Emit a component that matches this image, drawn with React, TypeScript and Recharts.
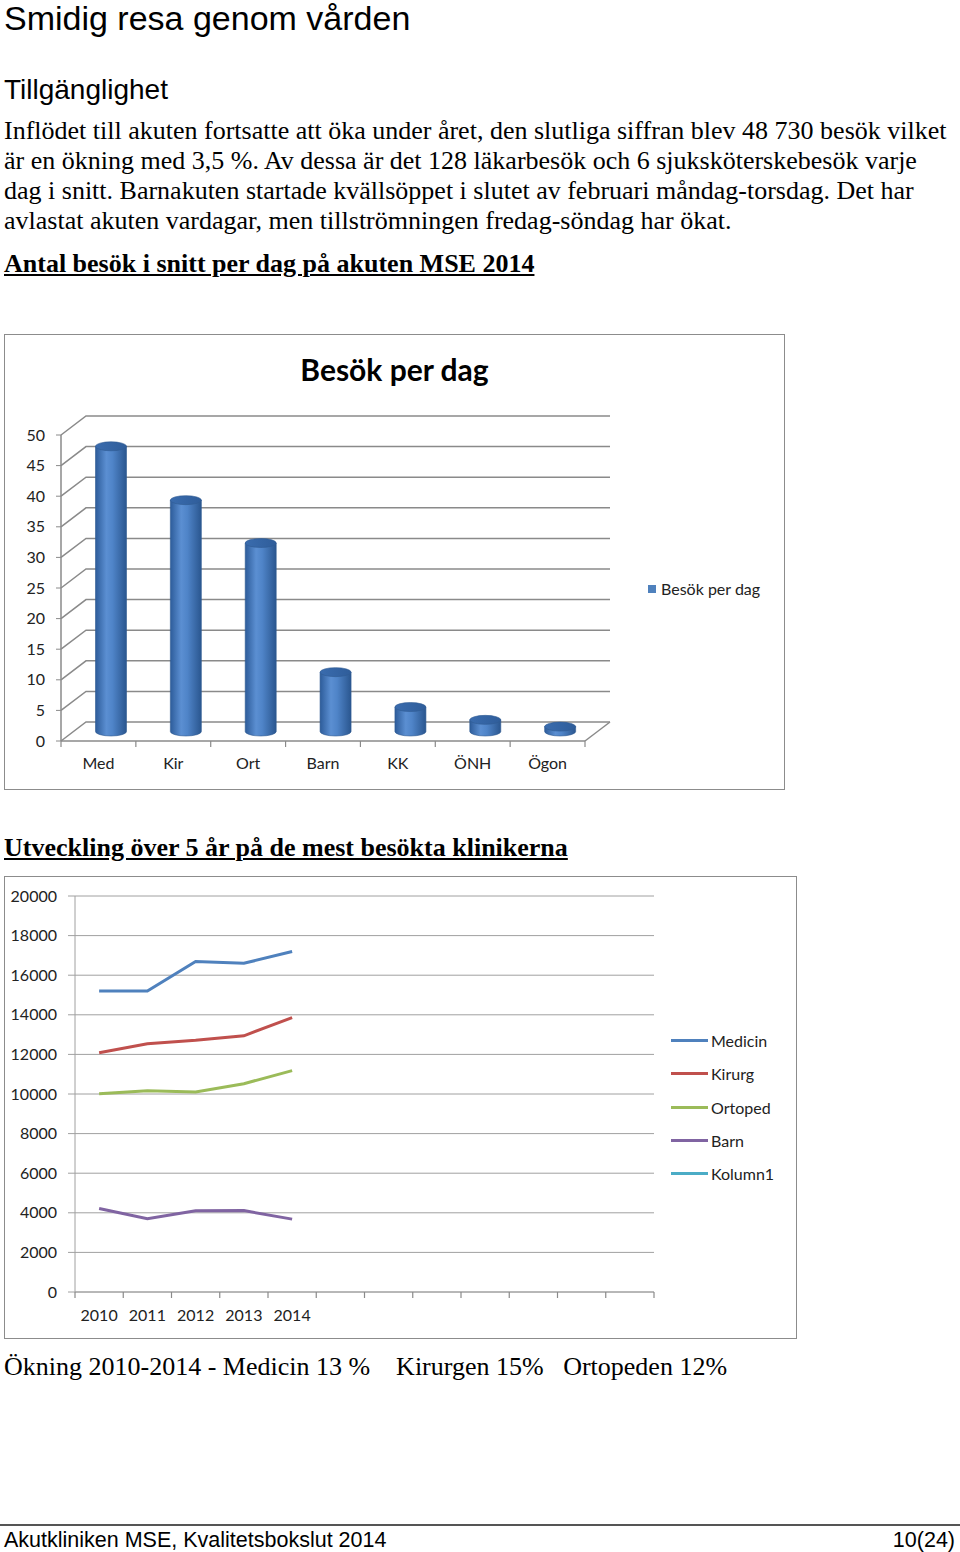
import React from 'react';
import {
  BarChart,
  Bar,
  XAxis,
  YAxis,
  CartesianGrid,
  Legend,
  LineChart,
  Line,
  ReferenceLine,
} from 'recharts';

// ---------- data: bar chart ----------
const clinics = ['Med', 'Kir', 'Ort', 'Barn', 'KK', 'ÖNH', 'Ögon'];
const visitsPerDay = [46.6, 37.8, 30.8, 9.7, 4.0, 1.9, 0.8];
const barTicks = [0, 5, 10, 15, 20, 25, 30, 35, 40, 45, 50];

// ---------- data: line chart ----------
const years = ['2010', '2011', '2012', '2013', '2014'];
const slotCount = 12; // category slots on the x axis (only first five labelled)
const medicin = [15200, 15200, 16690, 16600, 17200];
const kirurg = [12085, 12540, 12710, 12940, 13860];
const ortoped = [10010, 10170, 10105, 10520, 11180];
const barn = [4220, 3700, 4100, 4110, 3680];
const kolumn1: (number | null)[] = [null, null, null, null, null];
const lineTicks = [0, 2000, 4000, 6000, 8000, 10000, 12000, 14000, 16000, 18000, 20000];

const seriesNames = ['Medicin', 'Kirurg', 'Ortoped', 'Barn', 'Kolumn1'];
const seriesColors = ['#4F81BD', '#C0504D', '#9BBB59', '#8064A2', '#4BACC6'];
const seriesValues = [medicin, kirurg, ortoped, barn, kolumn1];

const barData = clinics.map((c, i) => ({ name: c, value: visitsPerDay[i] }));
const lineData = Array.from({ length: slotCount }, (_, i) => {
  const row: Record<string, any> = { i };
  seriesNames.forEach((n, k) => {
    row[n] = i < years.length ? seriesValues[k][i] : null;
  });
  return row;
});

const CHART_FONT = 'Lato, "Open Sans", sans-serif';
const SERIF = '"Liberation Serif", "Times New Roman", serif';
const SANS = '"Liberation Sans", Arial, sans-serif';

// 3D depth offset of the back wall
const DX = 25;
const DY = -19;
const GRID = '#8a8a8a';

// ---------- bar chart helpers ----------
const backWallLine = (props: any) => {
  const { x1, y1, x2, key } = props;
  const d = `M${x1},${y1} L${x1 + DX},${y1 + DY} L${x2 + DX},${y1 + DY}`;
  return <path key={key} d={d} stroke={GRID} strokeWidth={1.5} fill="none" />;
};

const floorRightEdge = (props: any) => {
  const { x2, y2 } = props;
  return (
    <path
      d={`M${x2},${y2} L${x2 + DX},${y2 + DY}`}
      stroke={GRID}
      strokeWidth={1.5}
      fill="none"
    />
  );
};

const Cylinder = (props: any) => {
  const { x, y, width, height } = props;
  if (width == null || height == null) return null;
  const cx = x + DX / 2;
  const cy = y + DY / 2;
  const rx = width / 2;
  const ry = 4.5;
  const bottom = cy + height;
  const body = `M${cx},${cy} L${cx},${bottom} A${rx},${ry} 0 0 0 ${cx + width},${bottom} L${cx + width},${cy} Z`;
  return (
    <g>
      <path d={body} fill="url(#cylGrad)" stroke="#2f5b92" strokeWidth={0.6} />
      <ellipse cx={cx + rx} cy={cy} rx={rx} ry={ry} fill="url(#capGrad)" stroke="#2f5b92" strokeWidth={0.6} />
    </g>
  );
};

const makeCategoryTick =
  (axisOffset: number, labelDy: number, labels: (i: number, v: any) => string, count: number, tick: number) =>
  (props: any) => {
    const { x, y, payload, index } = props;
    const axisY = y - axisOffset;
    const half = payload && typeof payload.offset === 'number' && payload.offset > 0 ? payload.offset : 0;
    const label = labels(index, payload ? payload.value : undefined);
    return (
      <g>
        <line x1={x - half} y1={axisY} x2={x - half} y2={axisY + tick} stroke={GRID} strokeWidth={1.2} />
        {index === count - 1 && (
          <line x1={x + half} y1={axisY} x2={x + half} y2={axisY + tick} stroke={GRID} strokeWidth={1.2} />
        )}
        <text
          x={x}
          y={axisY + labelDy}
          textAnchor="middle"
          fontFamily={CHART_FONT}
          fontSize={16}
          fill="#222"
        >
          {label}
        </text>
      </g>
    );
  };

const BarLegend = () => (
  <div style={{ display: 'flex', alignItems: 'center', fontFamily: CHART_FONT, fontSize: 16, color: '#222' }}>
    <span style={{ display: 'inline-block', width: 8, height: 8, background: '#4F81BD', marginRight: 5 }} />
    <span>Besök per dag</span>
  </div>
);

const LineLegend = () => (
  <div style={{ fontFamily: CHART_FONT, fontSize: 16, color: '#222' }}>
    {seriesNames.map((n, k) => (
      <div key={n} style={{ display: 'flex', alignItems: 'center', height: 33.25 }}>
        <span style={{ display: 'inline-block', width: 37, height: 3, background: seriesColors[k], marginRight: 3 }} />
        <span>{n}</span>
      </div>
    ))}
  </div>
);

// ---------- text helper ----------
const Txt = ({ left, top, size, family, bold, underline, children, right }: any) => (
  <div
    style={{
      position: 'absolute',
      left,
      right,
      top,
      fontSize: size,
      lineHeight: `${size}px`,
      fontFamily: family,
      fontWeight: bold ? 700 : 400,
      textDecoration: underline ? 'underline' : 'none',
      whiteSpace: 'pre',
      color: '#000',
    }}
  >
    {children}
  </div>
);

const BAR_TICK_SIZE = 5;
const BAR_TICK_MARGIN = 17;
const LINE_TICK_SIZE = 6;
const LINE_TICK_MARGIN = 17;
const BODY = 26;
const XAXIS_H = 30;

export default function App() {
  return (
    <div
      style={{
        position: 'absolute',
        left: 0,
        top: 0,
        width: 960,
        height: 1552,
        background: '#fff',
        overflow: 'hidden',
      }}
    >
      <Txt left={4} top={1} size={34} family={SANS}>Smidig resa genom vården</Txt>
      <Txt left={4} top={76} size={28} family={SANS}>Tillgänglighet</Txt>
      <Txt left={4} top={118} size={BODY} family={SERIF}>
        Inflödet till akuten fortsatte att öka under året, den slutliga siffran blev 48 730 besök vilket
      </Txt>
      <Txt left={4} top={148} size={BODY} family={SERIF}>
        är en ökning med 3,5 %. Av dessa är det 128 läkarbesök och 6 sjuksköterskebesök varje
      </Txt>
      <Txt left={4} top={178} size={BODY} family={SERIF}>
        dag i snitt. Barnakuten startade kvällsöppet i slutet av februari måndag-torsdag. Det har
      </Txt>
      <Txt left={4} top={208} size={BODY} family={SERIF}>
        avlastat akuten vardagar, men tillströmningen fredag-söndag har ökat.
      </Txt>
      <Txt left={4} top={251} size={BODY} family={SERIF} bold underline>
        Antal besök i snitt per dag på akuten MSE 2014
      </Txt>

      {/* ---------- bar chart ---------- */}
      <div
        style={{
          position: 'absolute',
          left: 4,
          top: 334,
          width: 781,
          height: 456,
          border: '1px solid #8c8c8c',
          boxSizing: 'border-box',
        }}
      >
        <div
          style={{
            position: 'absolute',
            left: 0,
            width: 779,
            top: 16,
            textAlign: 'center',
            fontFamily: CHART_FONT,
            fontWeight: 700,
            fontSize: 30,
            lineHeight: '36px',
            color: '#000',
          }}
        >
          Besök per dag
        </div>
        <BarChart
          width={779}
          height={454}
          data={barData}
          margin={{ top: 100, right: 199, bottom: 48 - XAXIS_H, left: 16 }}
        >
          <defs>
            <linearGradient id="cylGrad" x1="0" y1="0" x2="1" y2="0">
              <stop offset="0%" stopColor="#2d5c9a" />
              <stop offset="35%" stopColor="#5b8fd2" />
              <stop offset="55%" stopColor="#4f84c8" />
              <stop offset="100%" stopColor="#2a568f" />
            </linearGradient>
            <linearGradient id="capGrad" x1="0" y1="0" x2="1" y2="0">
              <stop offset="0%" stopColor="#3a6cae" />
              <stop offset="100%" stopColor="#2f5d9a" />
            </linearGradient>
          </defs>
          <CartesianGrid vertical={false} horizontal={backWallLine} />
          <XAxis
            dataKey="name"
            height={XAXIS_H}
            axisLine={{ stroke: GRID, strokeWidth: 1.5 }}
            tickLine={false}
            tickSize={BAR_TICK_SIZE}
            tickMargin={BAR_TICK_MARGIN}
            interval={0}
            tick={makeCategoryTick(
              BAR_TICK_SIZE + BAR_TICK_MARGIN,
              28,
              (i, v) => (v != null ? String(v) : clinics[i]),
              clinics.length,
              6
            )}
          />
          <YAxis
            width={40}
            domain={[0, 50]}
            ticks={barTicks}
            interval={0}
            axisLine={{ stroke: GRID, strokeWidth: 1.5 }}
            tickLine={{ stroke: GRID }}
            tickSize={BAR_TICK_SIZE}
            tickMargin={11}
            tick={{ fontFamily: CHART_FONT, fontSize: 16, fill: '#222' }}
          />
          <ReferenceLine y={0} stroke="none" shape={floorRightEdge} ifOverflow="visible" />
          <Bar dataKey="value" name="Besök per dag" barSize={31} shape={Cylinder} isAnimationActive={false} />
          <Legend
            layout="vertical"
            align="center"
            verticalAlign="middle"
            content={<BarLegend />}
            wrapperStyle={{ position: 'absolute', left: 643, top: 244, width: 130, bottom: 'auto', right: 'auto' }}
          />
        </BarChart>
      </div>

      <Txt left={4} top={835} size={BODY} family={SERIF} bold underline>
        Utveckling över 5 år på de mest besökta klinikerna
      </Txt>

      {/* ---------- line chart ---------- */}
      <div
        style={{
          position: 'absolute',
          left: 4,
          top: 876,
          width: 793,
          height: 463,
          border: '1px solid #8c8c8c',
          boxSizing: 'border-box',
        }}
      >
        <LineChart
          width={791}
          height={461}
          data={lineData}
          margin={{ top: 19, right: 142, bottom: 46 - XAXIS_H, left: 10 }}
        >
          <CartesianGrid vertical={false} stroke="#a0a0a0" strokeWidth={1} />
          <XAxis
            dataKey="i"
            type="category"
            scale="band"
            height={XAXIS_H}
            axisLine={{ stroke: '#a0a0a0' }}
            tickLine={false}
            tickSize={LINE_TICK_SIZE}
            tickMargin={LINE_TICK_MARGIN}
            interval={0}
            tick={makeCategoryTick(
              LINE_TICK_SIZE + LINE_TICK_MARGIN,
              29,
              (i) => (i < years.length ? years[i] : ''),
              slotCount,
              6
            )}
          />
          <YAxis
            width={60}
            domain={[0, 20000]}
            ticks={lineTicks}
            interval={0}
            axisLine={{ stroke: '#a0a0a0' }}
            tickLine={{ stroke: '#a0a0a0' }}
            tickSize={7}
            tickMargin={11}
            tick={{ fontFamily: CHART_FONT, fontSize: 16, fill: '#222' }}
          />
          {seriesNames.map((n, k) => (
            <Line
              key={n}
              dataKey={n}
              name={n}
              stroke={seriesColors[k]}
              strokeWidth={3}
              dot={false}
              activeDot={false}
              connectNulls={false}
              isAnimationActive={false}
            />
          ))}
          <Legend
            layout="vertical"
            align="center"
            verticalAlign="middle"
            content={<LineLegend />}
            wrapperStyle={{ position: 'absolute', left: 666, top: 147, width: 120, bottom: 'auto', right: 'auto' }}
          />
        </LineChart>
      </div>

      <Txt left={4} top={1354} size={BODY} family={SERIF}>
        {'Ökning 2010-2014 - Medicin 13 %    Kirurgen 15%   Ortopeden 12%'}
      </Txt>

      {/* footer */}
      <div style={{ position: 'absolute', left: 0, top: 1524, width: 960, height: 2, background: '#555' }} />
      <Txt left={4} top={1530} size={21.5} family={SANS}>Akutkliniken MSE, Kvalitetsbokslut 2014</Txt>
      <Txt right={5} top={1530} size={21.5} family={SANS}>10(24)</Txt>
    </div>
  );
}
